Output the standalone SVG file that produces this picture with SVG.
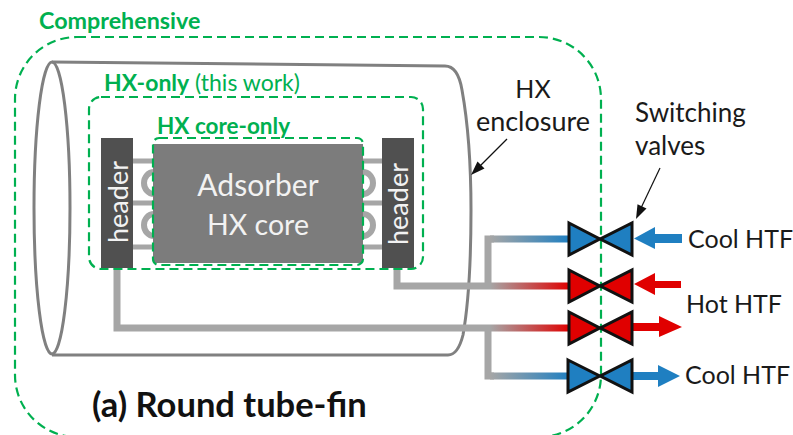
<svg xmlns="http://www.w3.org/2000/svg" width="793" height="435" viewBox="0 0 793 435">
<style>
text{font-family:Lato,Carlito,"Open Sans",sans-serif}
.g{fill:#00b050;font-weight:700}
.d{fill:none;stroke:#00b050;stroke-width:2.200;stroke-dasharray:9 5}
.p{fill:none;stroke:#a6a6a6;stroke-width:7}
.t{fill:none;stroke:#a6a6a6;stroke-width:5}
.o{fill:none;stroke:#a6a6a6;stroke-width:6}
.e{fill:none;stroke:#808080;stroke-width:3}
.l{font-size:25px;fill:#1a1a1a}
.w{font-size:30px;fill:#f2f2f2}
.h{font-size:27px;fill:#f2f2f2}
.hd{fill:#505050}
.vb{fill:#1f7fc1;stroke:#111;stroke-width:3}
.vr{fill:#e00000;stroke:#111;stroke-width:3}
.thin{stroke:#111;stroke-width:1.2;fill:none}
</style>
<defs>
<linearGradient id="gb" gradientUnits="userSpaceOnUse" x1="490" y1="0" x2="570" y2="0"><stop offset="0" stop-color="#a6a6a6"/><stop offset="1" stop-color="#1f7fc1"/></linearGradient>
<linearGradient id="gr" gradientUnits="userSpaceOnUse" x1="490" y1="0" x2="570" y2="0"><stop offset="0" stop-color="#a6a6a6"/><stop offset="1" stop-color="#e00000"/></linearGradient>
</defs>
<g id="enclosure">
<path class="e" d="M52 62 L445 66 Q458 66 462 90 Q471 140 471 210 Q471 290 463 335 Q458 355 448 355 L52 355"/>
<ellipse class="e" cx="52" cy="208" rx="18" ry="146"/>
</g>
<g id="connectors">
<path class="p" d="M117 268 V328 H490"/>
<path class="p" d="M397 268 V286 H490"/>
<path class="p" d="M488 286 V239 H494"/>
<path class="p" d="M488 328 V376 H494"/>
<path d="M490 239 H570" fill="none" stroke="url(#gb)" stroke-width="7"/>
<path d="M490 286 H570" fill="none" stroke="url(#gr)" stroke-width="7"/>
<path d="M490 328 H570" fill="none" stroke="url(#gr)" stroke-width="7"/>
<path d="M490 376 H569" fill="none" stroke="url(#gb)" stroke-width="7"/>
<path class="thin" d="M507 139 L478 168"/><path d="M471 175 L484.500 168.500 L477.500 161.500Z" fill="#111"/>
<path class="thin" d="M660 168 L641 208"/><path d="M636 219 L646.500 208.400 L637.500 204.200Z" fill="#111"/>
<path fill="#1f7fc1" d="M682 234 H655 V227 L634 238.500 L655 249 V243 H682Z"/>
<path fill="#e00000" d="M681 281 H655 V273 L634 284 L655 295 V288 H681Z"/>
<path fill="#e00000" d="M633 323 H659 V316 L682 327 L659 337 V331 H633Z"/>
<path fill="#1f7fc1" d="M633 372 H658 V365 L680 376 L658 387 V380 H633Z"/>
</g>
<g id="fins">
<path class="t" d="M133 161 H155 M133 203 H155 M133 247 H155 M362 161 H384 M362 203 H384 M362 247 H384"/>
<ellipse class="o" cx="154" cy="183" rx="10" ry="11"/>
<ellipse class="o" cx="154" cy="225" rx="10" ry="11"/>
<ellipse class="o" cx="363" cy="183" rx="10" ry="11"/>
<ellipse class="o" cx="363" cy="225" rx="10" ry="11"/>
</g>
<g id="header-left">
<rect class="hd" x="101" y="138" width="32" height="130"/>
<text class="h" transform="translate(128 202) rotate(-90)" text-anchor="middle">header</text>
</g>
<g id="header-right">
<rect class="hd" x="382" y="138" width="32" height="130"/>
<text class="h" transform="translate(408 204) rotate(-90)" text-anchor="middle">header</text>
</g>
<g id="core">
<rect x="153" y="144" width="210" height="119" fill="#7c7c7c"/>
<text class="w" x="258" y="196" text-anchor="middle">Adsorber</text>
<text class="w" x="258" y="235" text-anchor="middle" style="font-size:28.500px">HX core</text>
</g>
<g id="comprehensive">
<rect class="d" x="15" y="37" width="586" height="400" rx="62"/>
<text class="g" x="39" y="29" font-size="23.300">Comprehensive</text>
</g>
<g id="hx-only">
<rect class="d" x="89" y="97" width="334" height="172" rx="12"/>
<text x="104" y="91" font-size="23" fill="#00b050"><tspan font-weight="700">HX-only</tspan> (this work)</text>
</g>
<g id="hx-core-only">
<rect class="d" x="153" y="138" width="210" height="127" rx="6"/>
<text class="g" x="157" y="134" font-size="22.500">HX core-only</text>
</g>
<g id="valves">
<path class="vb" d="M569 223 L600 239 L632 223 V255 L600 239 L569 255Z"/>
<path class="vr" d="M569 270 L600 286 L632 270 V302 L600 286 L569 302Z"/>
<path class="vr" d="M569 312 L600 328 L632 312 V344 L600 328 L569 344Z"/>
<path class="vb" d="M568 360 L600 376 L632 360 V392 L600 376 L568 392Z"/>
</g>
<g id="labels">
<text class="l" x="533" y="98" text-anchor="middle">HX</text>
<text class="l" x="533" y="131" text-anchor="middle" style="font-size:27px">enclosure</text>
<text class="l" x="635" y="122" style="font-size:26px">Switching</text>
<text class="l" x="635" y="155" style="font-size:26px">valves</text>
<text class="l" x="688" y="248">Cool HTF</text>
<text class="l" x="686" y="313">Hot HTF</text>
<text class="l" x="685" y="384">Cool HTF</text>
<text x="92" y="417" font-size="34.500" font-weight="700" fill="#111">(a) Round tube-fin</text>
</g>
</svg>
